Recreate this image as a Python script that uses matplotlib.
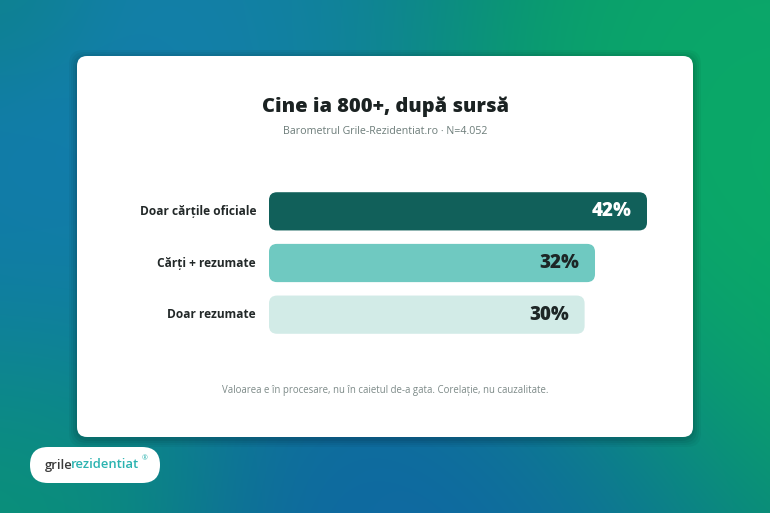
import numpy as np
import matplotlib
matplotlib.use("Agg")
import matplotlib.pyplot as plt
from matplotlib.patches import FancyBboxPatch

# data
categories = ["Doar cărțile oficiale", "Cărți + rezumate", "Doar rezumate"]
shares = [42, 32, 30]
bar_colors = ["#11605a", "#6fc9c1", "#d2ebe7"]
value_colors = ["#ffffff", "#1d2626", "#1d2626"]
title = "Cine ia 800+, după sursă"
subtitle = "Barometrul Grile-Rezidentiat.ro · N=4.052"
footnote = "Valoarea e în procesare, nu în caietul de-a gata. Corelație, nu cauzalitate."

W, H = 770, 513
TRACK_OFFSET = 30.7   # bars start this far left of zero

plt.rcParams['font.family'] = ['Open Sans', 'DejaVu Sans']

fig = plt.figure(figsize=(W / 100, H / 100), dpi=100)

# background gradient, in pixel coords
bg = fig.add_axes([0, 0, 1, 1])
bg.set_xlim(0, W)
bg.set_ylim(H, 0)
bg.axis("off")

yy, xx = np.mgrid[0:H, 0:W]
blobs = [
    # (x, y, radius, colour)
    (140, 70, 170, (0.09, 0.50, 0.73)),
    (0, 240, 130, (0.07, 0.47, 0.70)),
    (780, 190, 200, (0.04, 0.72, 0.38)),
    (430, 530, 170, (0.07, 0.37, 0.70)),
    (10, 480, 120, (0.04, 0.60, 0.45)),
    (780, 0, 120, (0.05, 0.66, 0.42)),
    (0, 0, 60, (0.04, 0.52, 0.50)),
]
base_col = np.array((0.03, 0.50, 0.46))
acc = np.ones((H, W, 1)) * 0.35 * base_col
wsum = np.ones((H, W, 1)) * 0.35
for bx, by, r, c in blobs:
    w = np.exp(-((xx - bx) ** 2 + (yy - by) ** 2) / (2 * r ** 2))[..., None]
    acc += w * np.array(c)
    wsum += w
img = acc / wsum
bg.imshow(img, extent=(0, W, H, 0), aspect="auto", zorder=0)

# card shadow + card
for i, a in enumerate([0.04, 0.04, 0.05, 0.06]):
    g = 8 - 2 * i
    bg.add_patch(FancyBboxPatch((77 - g, 58 - g), 616 + 2 * g, 381 + 2 * g,
                                boxstyle="round,pad=0,rounding_size=14",
                                fc="black", ec="none", alpha=a, zorder=1))
bg.add_patch(FancyBboxPatch((77, 56), 616, 381, boxstyle="round,pad=0,rounding_size=10",
                            fc="white", ec="none", zorder=2))

bg.text(385, 107, title, ha="center", va="center", fontsize=14.4, fontweight="heavy",
        color="#1b2222", zorder=3)
bg.text(385, 131, subtitle, ha="center", va="center", fontsize=7.7,
        color="#6c7c79", zorder=3)
bg.text(385, 391, footnote, ha="center", va="center", fontsize=6.9,
        color="#7d8a88", zorder=3)

# logo pill
bg.add_patch(FancyBboxPatch((30, 447), 130, 36, boxstyle="round,pad=0,rounding_size=18",
                            fc="white", ec="none", zorder=2))
bg.text(73, 465, "grile", ha="right", va="center", fontsize=9.4, fontweight="semibold",
        color="#3a3a3a", zorder=3)
bg.text(71, 465, "rezidentiat", ha="left", va="center", fontsize=9.4, fontweight="semibold",
        color="#2bb3b0", zorder=3)
bg.text(142, 459, "®", ha="left", va="center", fontsize=5, color="#2bb3b0", zorder=3)

# bar chart
ax = fig.add_axes([269 / W, 1 - 340.5 / H, (647 - 269) / W, 155 / H])
ax.set_xlim(-TRACK_OFFSET, max(shares))
ax.set_ylim(len(categories) - 0.5, -0.5)
ax.axis("off")
ax.patch.set_alpha(0)

ypos = np.arange(len(categories))
bars = ax.barh(ypos, [s + TRACK_OFFSET for s in shares], left=-TRACK_OFFSET,
               height=0.74, color=bar_colors)

fig.canvas.draw()
px_x = ax.transData.transform((1, 0))[0] - ax.transData.transform((0, 0))[0]
px_y = abs(ax.transData.transform((0, 1))[1] - ax.transData.transform((0, 0))[1])
radius_px = 8
for b, col in zip(bars, bar_colors):
    b.set_visible(False)
    ax.add_patch(FancyBboxPatch((b.get_x(), b.get_y()), b.get_width(), b.get_height(),
                                boxstyle=f"round,pad=0,rounding_size={radius_px / px_x}",
                                mutation_aspect=px_x / px_y,
                                fc=col, ec="none", clip_on=False))

for y, s, cat, vc in zip(ypos, shares, categories, value_colors):
    ax.text(s - 16 / px_x, y, f"{s}%", ha="right", va="center", fontsize=13.5,
            fontweight="heavy", color=vc)
    ax.text(-TRACK_OFFSET - 13 / px_x, y, cat, ha="right", va="center", fontsize=8.6,
            fontweight="bold", color="#222828", clip_on=False)

fig.savefig("out.png", dpi=100)
